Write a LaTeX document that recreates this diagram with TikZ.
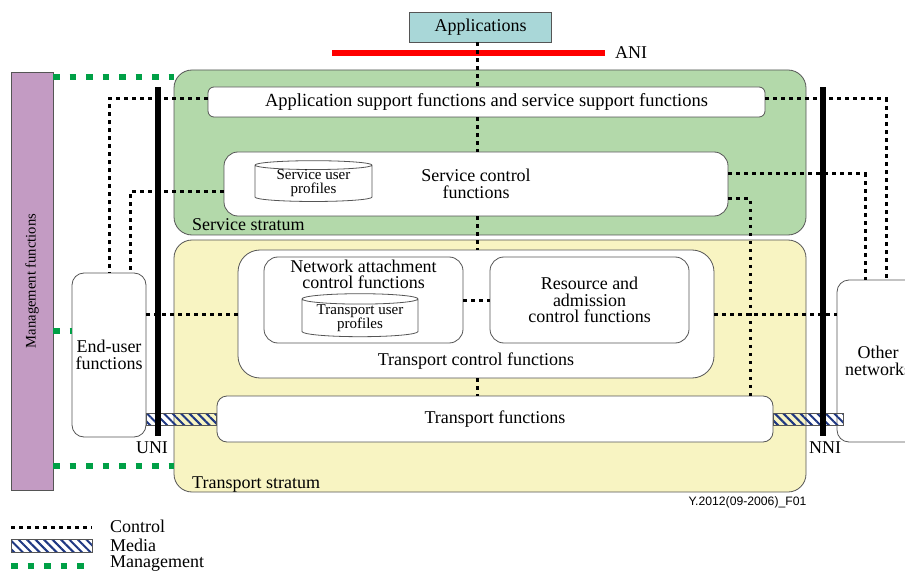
\documentclass[tikz,border=0pt]{standalone}
\usepackage{fontspec}
\setmainfont{Liberation Serif}
\newfontfamily\figidfont{Liberation Sans}
\usetikzlibrary{positioning,shapes.geometric,patterns.meta}

\definecolor{svcgreen}{RGB}{179,217,170}
\definecolor{trpyellow}{RGB}{248,244,194}
\definecolor{appblue}{RGB}{169,215,216}
\definecolor{mgmtpurple}{RGB}{195,155,195}
\definecolor{mgmtgreen}{RGB}{0,160,70}
\definecolor{medianavy}{RGB}{30,55,130}
\definecolor{boxgray}{RGB}{85,85,85}

\begin{document}
\begin{tikzpicture}[x=1pt,y=-1pt,
stratum/.style={
  draw=boxgray,
  line width=0.8pt,
  rounded corners=18pt,
  inner sep=0
  },
fbox/.style={
  draw=boxgray,
  fill=white,
  line width=0.8pt,
  rounded corners=14pt,
  align=center,
  inner sep=0,
  font=\fontsize{18}{16.5}\selectfont
  },
dbase/.style={
  cylinder,
  shape border rotate=90,
  aspect=0.12,
  draw=boxgray,
  fill=white,
  line width=0.8pt,
  inner sep=0,
  align=center,
  font=\fontsize{15}{14}\selectfont
  },
bar/.style={fill=black, inner sep=0, minimum width=6pt, minimum height=349pt},
lbl/.style={inner sep=0, font=\fontsize{18}{16.5}\selectfont},
ctrl/.style={line width=3pt, dash pattern=on 3.5pt off 4.5pt},
mgmtline/.style={mgmtgreen, line width=6.5pt, dash pattern=on 6.5pt off 10pt},
media/.style={
  draw=boxgray,
  line width=0.6pt,
  pattern={Lines[angle=-45,distance=6pt,line width=2pt]},
  pattern color=medianavy
  }]
\useasboundingbox (0,0) rectangle (905,572);
\clip (0,0) rectangle (905,572);

% strata
\node[stratum, fill=svcgreen, minimum width=632pt, minimum height=165pt] (svs) at (490,152.5) {};
\node[stratum, fill=trpyellow, minimum width=632pt, minimum height=252pt] (trs) at (490,366) {};
\node[lbl, anchor=base west] (svslbl) at (192,230) {Service stratum};
\node[lbl, anchor=base west] (trslbl) at (192,488) {Transport stratum};

\node[draw=boxgray, fill=mgmtpurple, inner sep=0, minimum width=42pt, minimum height=418pt] (mgmt) at (32,281) {};
\node[rotate=90, inner sep=0, font=\fontsize{14.6}{16}\selectfont] (mgmtlbl) at (mgmt.center) {Management functions};

\node[lbl, draw=boxgray, fill=appblue, line width=0.8pt, minimum width=142pt, minimum height=30pt] (app) at (480.5,27) {Applications};
\coordinate (anistart) at (332,53);
\coordinate (aniend) at (605,53);
\draw[red, line width=6.5pt] (anistart) -- (aniend);
\node[lbl, right=10pt of aniend] (ani) {ANI};

% service stratum
\node[fbox, font=\fontsize{18.5}{17}\selectfont, rounded corners=6pt, minimum width=557pt, minimum height=30pt] (asf) at (486.5,102) {Application support functions and service support functions};
\node[fbox, minimum width=504pt, minimum height=64pt] (scf) at (476,184) {Service control\\functions};
\node[dbase, minimum width=117pt, minimum height=33pt] (sprof) at (313.5,183.5) {Service user\\profiles};

% transport stratum
\node[fbox, rounded corners=22pt, minimum width=476pt, minimum height=128pt] (tcf) at (476,314) {};
\node[lbl, anchor=base] (tcflbl) at (476,365) {Transport control functions};
\node[fbox, minimum width=199pt, minimum height=86pt] (nacf) at (363.5,300) {};
\node[lbl, align=center, below=3pt of nacf.north] (nacflbl) {Network attachment\\control functions};
\node[dbase, minimum width=116pt, minimum height=35pt] (tprof) at (360,318) {Transport user\\profiles};
\node[fbox, minimum width=199pt, minimum height=86pt] (racf) at (589.5,300) {Resource and\\admission\\control functions};
\node[fbox, rounded corners=10pt, minimum width=556pt, minimum height=46pt] (tf) at (495,419) {Transport functions};

\node[fbox, rounded corners=12pt, minimum width=74pt, minimum height=164pt] (euf) at (109,355) {End-user\\functions};
\node[fbox, rounded corners=12pt, minimum width=82pt, minimum height=162pt] (onet) at (878,361) {Other\\networks};

% control
\coordinate (spine) at (477,0);
\draw[ctrl] (app.south -| spine) -- (asf.north -| spine);
\draw[ctrl] (asf.south -| spine) -- (scf.north -| spine);
\draw[ctrl] (scf.south -| spine) -- (tcf.north -| spine);
\draw[ctrl] (tcf.south -| spine) -- (tf.north -| spine);
\draw[ctrl] (nacf.east) -- (racf.west);
\draw[ctrl] (euf.east |- tcf.west) -- (tcf.west);
\draw[ctrl] (tcf.east) -- (tcf.east -| onet.west);
\draw[ctrl] ([yshift=3pt]asf.west) -| (euf.north);
\draw[ctrl] ([yshift=-8pt]scf.west) -| ([xshift=21pt]euf.north);
\draw[ctrl] ([yshift=3pt]asf.east) -| ([xshift=8pt]onet.north);
\draw[ctrl] ([yshift=10pt]scf.east) -| ([xshift=-13pt]onet.north);
\draw[ctrl] ([yshift=-15pt]scf.east) -| ([xshift=255.5pt]tf.north);

% management
\coordinate (mgtop) at ([yshift=-5pt]mgmt.north east);
\coordinate (mgeuf) at ([yshift=24pt]euf.west);
\coordinate (mgtrs) at (174,466);
\draw[mgmtline] (mgtop) -- (mgtop -| svs.west);
\draw[mgmtline] (mgeuf -| mgmt.east) -- (mgeuf);
\draw[mgmtline] (mgtrs -| mgmt.east) -- (mgtrs);

% media
\coordinate (mdl) at (euf.east |- tf.west);
\coordinate (mdr) at (tf.east -| onet.west);
\path[media] ([yshift=6pt]mdl) rectangle ([yshift=-6pt]tf.west);
\path[media] ([yshift=6pt]tf.east) rectangle ([xshift=7pt,yshift=-6pt]mdr);

\node[bar] (uni) at (158,261.5) {};
\node[bar] (nni) at (822.5,261.5) {};
\node[lbl, anchor=north] (unilbl) at ([xshift=-6pt,yshift=-5pt]uni.south) {UNI};
\node[lbl, anchor=north] (nnilbl) at ([xshift=2.5pt,yshift=-5pt]nni.south) {NNI};

\node[font=\figidfont\fontsize{12.2}{14}\selectfont, inner sep=0] (figid) at (747.5,502) {Y.2012(09-2006)\_F01};

% legend
\coordinate (lgc) at (11,527);
\coordinate (lgm) at (11,546);
\coordinate (lgg) at (11,566);
\draw[ctrl] (lgc) -- ++(81,0);
\path[media] ([yshift=6.5pt]lgm) rectangle ++(81,13);
\draw[mgmtline] (lgg) -- ++(74,0);
\node[lbl, anchor=west] (lgctxt) at (110,526) {Control};
\node[lbl, anchor=west] (lgmtxt) at (110,545) {Media};
\node[lbl, anchor=west] (lggtxt) at (110,564) {Management};

\end{tikzpicture}
\end{document}
